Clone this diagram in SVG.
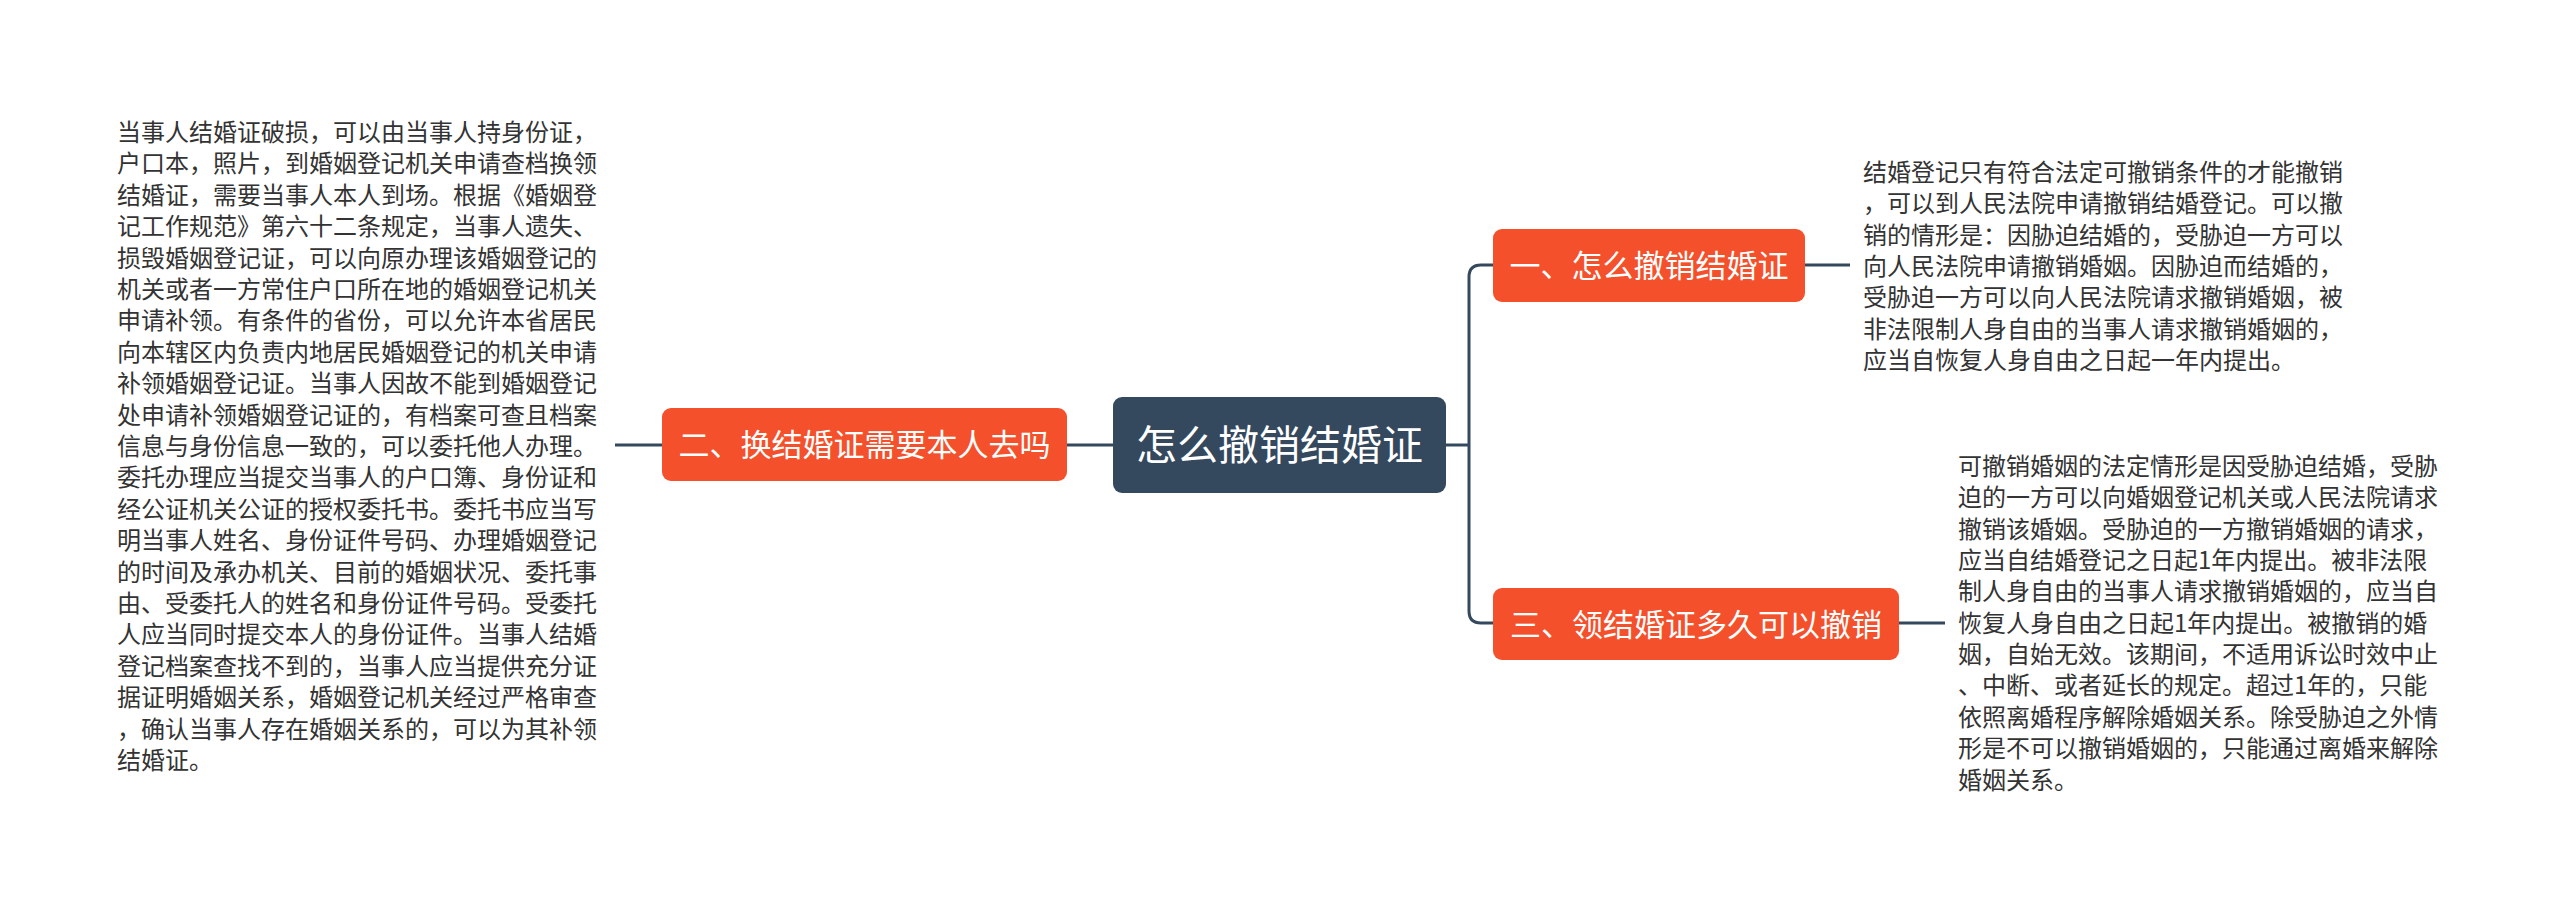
<svg xmlns="http://www.w3.org/2000/svg" width="2560" height="913" viewBox="0 0 2560 913">
<style>
.body{font-family:"Noto Sans CJK SC","Noto Sans",sans-serif;font-size:24px;fill:#333333}
.lbl{font-family:"Noto Sans CJK SC","Noto Sans",sans-serif;fill:#ffffff;text-anchor:middle}
.sub{fill:#f4502b}
.root{fill:#35495e}
.conn{fill:none;stroke:#35495e;stroke-width:3}
</style>
<rect width="2560" height="913" fill="#ffffff"/>
<g id="connectors">
<path class="conn" d="M1113 445 H1067"/>
<path class="conn" d="M662 445 H615"/>
<path class="conn" d="M1446 445 H1469"/>
<path class="conn" d="M1493 265 H1481 Q1469 265 1469 277 V611 Q1469 623 1481 623 H1493"/>
<path class="conn" d="M1805 265 H1850"/>
<path class="conn" d="M1899 623 H1945"/>
</g>
<g id="root">
<rect class="root" x="1113" y="397" width="333" height="96" rx="9"/>
<text class="lbl" x="1279.5" y="460" font-size="41">怎么撤销结婚证</text>
</g>
<g id="node1">
<rect class="sub" x="1493" y="229" width="312" height="73" rx="9"/>
<text class="lbl" x="1649" y="277" font-size="31">一、怎么撤销结婚证</text>
</g>
<g id="node2">
<rect class="sub" x="662" y="408" width="405" height="73" rx="9"/>
<text class="lbl" x="864.5" y="456" font-size="31">二、换结婚证需要本人去吗</text>
</g>
<g id="node3">
<rect class="sub" x="1493" y="588" width="406" height="72" rx="9"/>
<text class="lbl" x="1696" y="636" font-size="31">三、领结婚证多久可以撤销</text>
</g>
<g id="text1">
<text class="body" x="1863" y="181">结婚登记只有符合法定可撤销条件的才能撤销</text>
<text class="body" x="1863" y="212.3">，可以到人民法院申请撤销结婚登记。可以撤</text>
<text class="body" x="1863" y="243.7">销的情形是：因胁迫结婚的，受胁迫一方可以</text>
<text class="body" x="1863" y="275">向人民法院申请撤销婚姻。因胁迫而结婚的，</text>
<text class="body" x="1863" y="306.3">受胁迫一方可以向人民法院请求撤销婚姻，被</text>
<text class="body" x="1863" y="337.7">非法限制人身自由的当事人请求撤销婚姻的，</text>
<text class="body" x="1863" y="369">应当自恢复人身自由之日起一年内提出。</text>
</g>
<g id="text2">
<text class="body" x="117" y="141">当事人结婚证破损，可以由当事人持身份证，</text>
<text class="body" x="117" y="172.4">户口本，照片，到婚姻登记机关申请查档换领</text>
<text class="body" x="117" y="203.8">结婚证，需要当事人本人到场。根据《婚姻登</text>
<text class="body" x="117" y="235.2">记工作规范》第六十二条规定，当事人遗失、</text>
<text class="body" x="117" y="266.6">损毁婚姻登记证，可以向原办理该婚姻登记的</text>
<text class="body" x="117" y="298">机关或者一方常住户口所在地的婚姻登记机关</text>
<text class="body" x="117" y="329.4">申请补领。有条件的省份，可以允许本省居民</text>
<text class="body" x="117" y="360.8">向本辖区内负责内地居民婚姻登记的机关申请</text>
<text class="body" x="117" y="392.2">补领婚姻登记证。当事人因故不能到婚姻登记</text>
<text class="body" x="117" y="423.6">处申请补领婚姻登记证的，有档案可查且档案</text>
<text class="body" x="117" y="455">信息与身份信息一致的，可以委托他人办理。</text>
<text class="body" x="117" y="486.4">委托办理应当提交当事人的户口簿、身份证和</text>
<text class="body" x="117" y="517.8">经公证机关公证的授权委托书。委托书应当写</text>
<text class="body" x="117" y="549.2">明当事人姓名、身份证件号码、办理婚姻登记</text>
<text class="body" x="117" y="580.6">的时间及承办机关、目前的婚姻状况、委托事</text>
<text class="body" x="117" y="612">由、受委托人的姓名和身份证件号码。受委托</text>
<text class="body" x="117" y="643.4">人应当同时提交本人的身份证件。当事人结婚</text>
<text class="body" x="117" y="674.8">登记档案查找不到的，当事人应当提供充分证</text>
<text class="body" x="117" y="706.2">据证明婚姻关系，婚姻登记机关经过严格审查</text>
<text class="body" x="117" y="737.6">，确认当事人存在婚姻关系的，可以为其补领</text>
<text class="body" x="117" y="769">结婚证。</text>
</g>
<g id="text3">
<text class="body" x="1958" y="475">可撤销婚姻的法定情形是因受胁迫结婚，受胁</text>
<text class="body" x="1958" y="506.35">迫的一方可以向婚姻登记机关或人民法院请求</text>
<text class="body" x="1958" y="537.7">撤销该婚姻。受胁迫的一方撤销婚姻的请求，</text>
<text class="body" x="1958" y="569.05">应当自结婚登记之日起1年内提出。被非法限</text>
<text class="body" x="1958" y="600.4">制人身自由的当事人请求撤销婚姻的，应当自</text>
<text class="body" x="1958" y="631.75">恢复人身自由之日起1年内提出。被撤销的婚</text>
<text class="body" x="1958" y="663.1">姻，自始无效。该期间，不适用诉讼时效中止</text>
<text class="body" x="1958" y="694.45">、中断、或者延长的规定。超过1年的，只能</text>
<text class="body" x="1958" y="725.8">依照离婚程序解除婚姻关系。除受胁迫之外情</text>
<text class="body" x="1958" y="757.15">形是不可以撤销婚姻的，只能通过离婚来解除</text>
<text class="body" x="1958" y="788.5">婚姻关系。</text>
</g>
</svg>
